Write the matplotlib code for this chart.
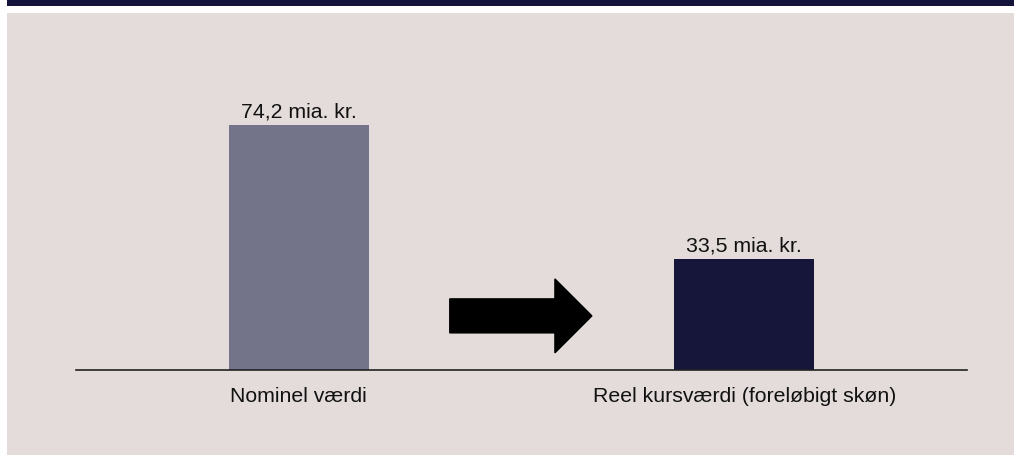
import matplotlib.pyplot as plt
from matplotlib.patches import Rectangle, FancyArrow

plt.rcParams['font.family'] = ['Liberation Sans', 'DejaVu Sans']

# Data
categories = ['Nominel værdi', 'Reel kursværdi (foreløbigt skøn)']
values = [74.2, 33.5]
value_labels = ['74,2 mia. kr.', '33,5 mia. kr.']
bar_colors = ['#737389', '#16163a']

W, H = 1014, 455
fig = plt.figure(figsize=(W / 100, H / 100), dpi=100)
fig.patch.set_facecolor('white')

# top dark band and light panel (behind the axes)
fig.patches.append(Rectangle((7 / W, 1 - 6 / H), 1, 6 / H, transform=fig.transFigure,
                             facecolor='#13133b', edgecolor='none', zorder=-10))
fig.patches.append(Rectangle((7 / W, 0), 1, 1 - 13 / H, transform=fig.transFigure,
                             facecolor='#e3dcdb', edgecolor='none', zorder=-10))

# axes: baseline at y=370 px, from x=76 to 967 px
ax = fig.add_axes([76 / W, (H - 370) / H, (967 - 76) / W, 330 / H])
ax.set_zorder(1)
ax.set_facecolor('none')
x = range(len(categories))
bars = ax.bar(x, values, width=0.315, color=bar_colors, zorder=2)
ax.set_xlim(-0.5, 1.5)
ax.set_ylim(0, 100)

for b, lab in zip(bars, value_labels):
    ax.annotate(lab, (b.get_x() + b.get_width() / 2, b.get_height()),
                xytext=(0, 8), textcoords='offset pixels',
                ha='center', va='baseline', fontsize=15.3, color='#111111')

ax.set_xticks(list(x))
ax.set_xticklabels(categories, fontsize=15.3, color='#111111')
ax.tick_params(axis='x', length=0, pad=12)
ax.set_yticks([])
for s in ['top', 'right', 'left']:
    ax.spines[s].set_visible(False)
ax.spines['bottom'].set_color('#222222')
ax.spines['bottom'].set_linewidth(1.2)

# arrow between the bars
ax.add_patch(FancyArrow(0.339, 16.4, 0.319, 0, width=10.3, head_width=22.4,
                        head_length=0.083, length_includes_head=True,
                        color='black', zorder=3))

fig.savefig('out.png', dpi=100, facecolor=fig.get_facecolor())
